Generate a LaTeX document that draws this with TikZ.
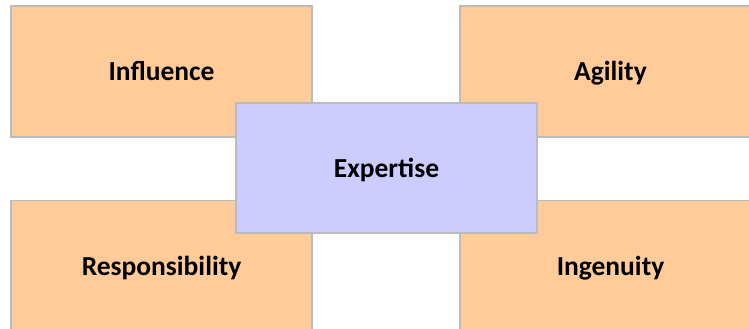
\documentclass[tikz,border=0pt]{standalone}
\usepackage{fontspec}
\setmainfont{Carlito}
\usepackage{tikz}
\usetikzlibrary{positioning}
\definecolor{peach}{HTML}{FFCC99}
\definecolor{lavender}{HTML}{CCCCFF}
\definecolor{edgegrey}{HTML}{BBBBBB}

\begin{document}
\begin{tikzpicture}[
  x=1pt, y=-1pt,
  quad/.style={draw=edgegrey, line width=1.6pt, fill=peach, minimum width=301pt, minimum height=131pt, inner sep=0pt, text height=22pt, text depth=3pt, font=\bfseries\fontsize{27.5}{32}\selectfont},
  core/.style={quad, fill=lavender, minimum height=130pt}
]
\useasboundingbox (0,0) rectangle (749,329);
\clip (0,0) rectangle (749,329);

% Four corner boxes
\node[quad] (infl) at (161.5,71.5) {Influence};
\node[quad] (agil) at (610.5,71.5) {Agility};
\node[quad] (resp) at (161.5,266) {Responsibility};
\node[quad] (inge) at (610.5,266) {Ingenuity};

% Middle box on top
\node[core] (expe) at (386.5,168) {Expertise};

\end{tikzpicture}
\end{document}
